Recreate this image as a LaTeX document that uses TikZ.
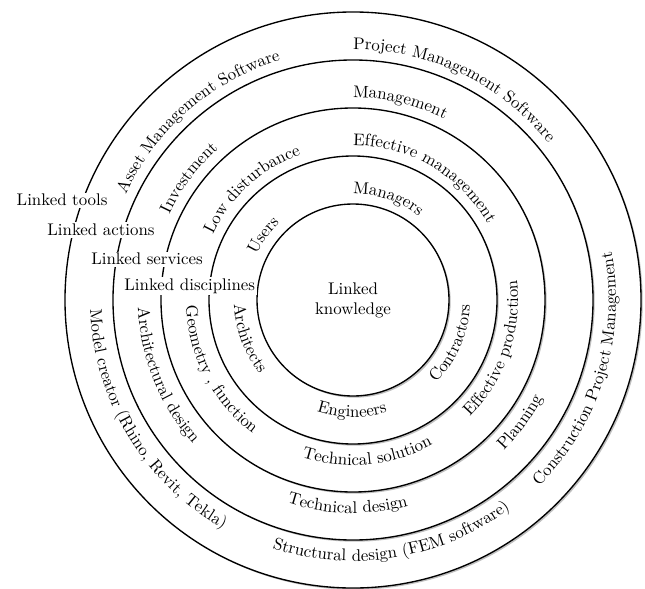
\documentclass[tikz,border=0pt]{standalone}
\usetikzlibrary{decorations.text,shadows}

\begin{document}
\begin{tikzpicture}[
    ring/.style={circle, draw, thick, fill=white, inner sep=0pt, minimum size=#1,
                 drop shadow={shadow xshift=1pt, shadow yshift=-1pt, opacity=.5}},
    linked/.style={fill=white, inner sep=1pt},
    arctext/.style={decorate, decoration={text along path, text={#1}}}
]

% Fix the picture size
\useasboundingbox (-7.354,-6) rectangle (6.083,6.25);

% Draw the rings, largest first
\node (c5) [ring=12cm] at (0,0) {};
\node (c4) [ring=10cm] at (0,0) {};
\node (c3) [ring=8cm] at (0,0) {};
\node (c2) [ring=6cm] at (0,0) {};
\node (c1) [ring=4cm, align=center] at (0,0) {Linked\\knowledge};

% Ring 1 texts
\path [arctext={Managers}] (90:2.22) arc (90:20:2.22);
\path [arctext={Users}] (155:2.22) arc (155:100:2.22);
\path [arctext={Architects}] (182:2.48) arc (182:250:2.48);
\path [arctext={Engineers}] (252:2.44) arc (252:310:2.44);
\path [arctext={Contractors}] (315:2.44) arc (315:390:2.44);

% Ring 2 texts
\path [arctext={Effective management}] (90:3.22) arc (90:0:3.22);
\path [arctext={Low disturbance}] (155:3.22) arc (155:90:3.22);
\path [arctext={Geometry , function}] (182:3.48) arc (182:250:3.48);
\path [arctext={Technical solution}] (252:3.44) arc (252:320:3.44);
\path [arctext={Effective production}] (315:3.44) arc (315:400:3.44);

% Ring 3 texts
\path [arctext={Management}] (90:4.22) arc (90:20:4.22);
\path [arctext={Investment}] (155:4.22) arc (155:100:4.22);
\path [arctext={Architectural design}] (182:4.48) arc (182:250:4.48);
\path [arctext={Technical design}] (252:4.44) arc (252:320:4.44);
\path [arctext={Planning}] (315:4.44) arc (315:380:4.44);

% Ring 4 texts
\path [arctext={Project Management Software}] (90:5.22) arc (90:20:5.22);
\path [arctext={Asset Management Software}] (155:5.22) arc (155:90:5.22);
\path [arctext={Model creator (Rhino, Revit, Tekla)}] (182:5.48) arc (182:260:5.48);
\path [arctext={Structural design (FEM software)}] (252:5.44) arc (252:330:5.44);
\path [arctext={Construction Project Management}] (315:5.48) arc (315:400:5.48);

% Links between the rings
\node (tools) [linked] at (-6.06,2.08) {Linked tools};
\node (actions) [linked] at (-5.25,1.46) {Linked actions};
\node (services) [linked] at (-4.29,0.85) {Linked services};
\node (disciplines) [linked] at (-3.40,0.29) {Linked disciplines};
\end{tikzpicture}
\end{document}
